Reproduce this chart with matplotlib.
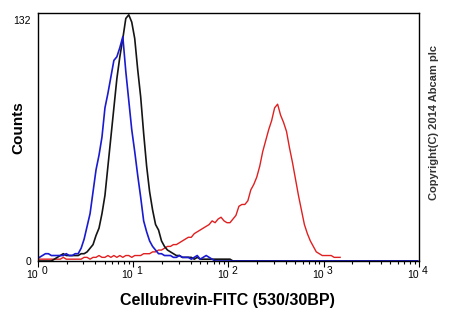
import numpy as np
import matplotlib
matplotlib.use("Agg")
import matplotlib.pyplot as plt
from matplotlib.ticker import LogLocator, NullFormatter

plt.rcParams['font.family'] = ['Liberation Sans', 'DejaVu Sans']

# histogram channels: 32 per decade from 10^0 to 10^4
n_bins = 128
edges = np.logspace(0, 4, n_bins + 1)
centers = np.sqrt(edges[:-1] * edges[1:])

# counts per channel, starting at channel 0 (rest are zero)
black_counts = [0, 0, 0, 0, 0, 1, 2, 3, 4, 3, 3, 3, 3, 3, 4, 4, 5, 7, 9, 14,
                18, 26, 36, 52, 68, 84, 100, 112, 122, 133, 135, 131, 122, 105, 90, 70, 52, 38, 28, 20,
                17, 11, 8, 6, 5, 4, 3, 3, 2, 2, 2, 2, 1, 2, 1, 1, 1, 1, 1, 1,
                1, 1, 1, 1, 1]
blue_counts = [2, 3, 4, 4, 3, 3, 3, 3, 3, 4, 3, 3, 4, 4, 7, 12, 19, 26, 38, 50,
               58, 68, 84, 92, 101, 110, 112, 117, 123, 104, 88, 72, 60, 47, 35, 22, 16, 11, 8, 6,
               4, 4, 3, 3, 3, 2, 2, 3, 2, 2, 2, 1, 2, 3, 1, 2, 3, 2, 1]
red_counts = [1, 1, 1, 1, 1, 1, 1, 1, 2, 1, 1, 1, 1, 1, 1, 2, 2, 1, 2, 2,
              3, 2, 2, 3, 2, 3, 2, 3, 2, 3, 3, 2, 3, 3, 3, 4, 4, 4, 5, 5,
              6, 6, 7, 8, 8, 9, 9, 10, 11, 12, 13, 13, 15, 16, 17, 18, 19, 20, 22, 21,
              23, 24, 22, 21, 21, 23, 25, 30, 31, 31, 33, 39, 42, 46, 52, 60, 66, 72, 77, 84,
              86, 80, 76, 71, 62, 54, 45, 36, 28, 20, 15, 11, 8, 5, 4, 3, 3, 3, 3, 2,
              2, 2]

x_label = "Cellubrevin-FITC (530/30BP)"
y_label = "Counts"
y_ticks = [0, 132]
decades = [0, 1, 2, 3, 4]


def padded(counts):
    c = np.zeros(n_bins)
    c[:len(counts)] = counts
    return c


fig = plt.figure(figsize=(4.5, 3.3), dpi=100)
ax = fig.add_axes([0.0844, 0.2091, 0.8467, 0.7515])

# red stops where its data stops, blue/black run along the baseline
red = np.array(red_counts, dtype=float)
ax.plot(centers[:len(red)], red, color='#e02020', lw=1.0)
ax.plot(centers, padded(black_counts), color='#151515', lw=1.2)
ax.plot(centers, padded(blue_counts), color='#1a1ad0', lw=1.2)

ax.set_xscale('log')
ax.set_xlim(1, 1e4)
ax.set_ylim(0, 136)

ax.xaxis.set_major_locator(LogLocator(base=10, numticks=10))
ax.xaxis.set_minor_locator(LogLocator(base=10, subs=np.arange(2, 10), numticks=20))
ax.xaxis.set_major_formatter(NullFormatter())
ax.xaxis.set_minor_formatter(NullFormatter())
ax.tick_params(axis='x', which='major', direction='out', length=4, width=0.8)
ax.tick_params(axis='x', which='minor', direction='out', length=2.5, width=0.8)

ax.set_yticks(y_ticks)
ax.set_yticklabels([str(v) for v in y_ticks], fontsize=7.5)
ax.tick_params(axis='y', length=0, pad=5)

for s in ax.spines.values():
    s.set_linewidth(1.0)
    s.set_color('black')

# decade labels drawn as "10" with exponent beside the tick
trans = ax.get_xaxis_transform()
for d in decades:
    ax.text(10 ** d, -0.058, "10", transform=trans, ha='right', va='center', fontsize=7.5)
    ax.text(10 ** d * 1.08, -0.04, str(d), transform=trans, ha='left', va='center', fontsize=7.5)

fig.text(0.505, 0.088, x_label, ha='center', va='center', fontsize=11.5, fontweight='bold')
fig.text(0.04, 0.612, y_label, ha='center', va='center', fontsize=11, fontweight='bold', rotation=90)
fig.text(0.964, 0.63, "Copyright(C) 2014 Abcam plc", ha='center', va='center',
         fontsize=8, fontweight='bold', rotation=90, color='#333333')

fig.savefig("out.png", dpi=100)
